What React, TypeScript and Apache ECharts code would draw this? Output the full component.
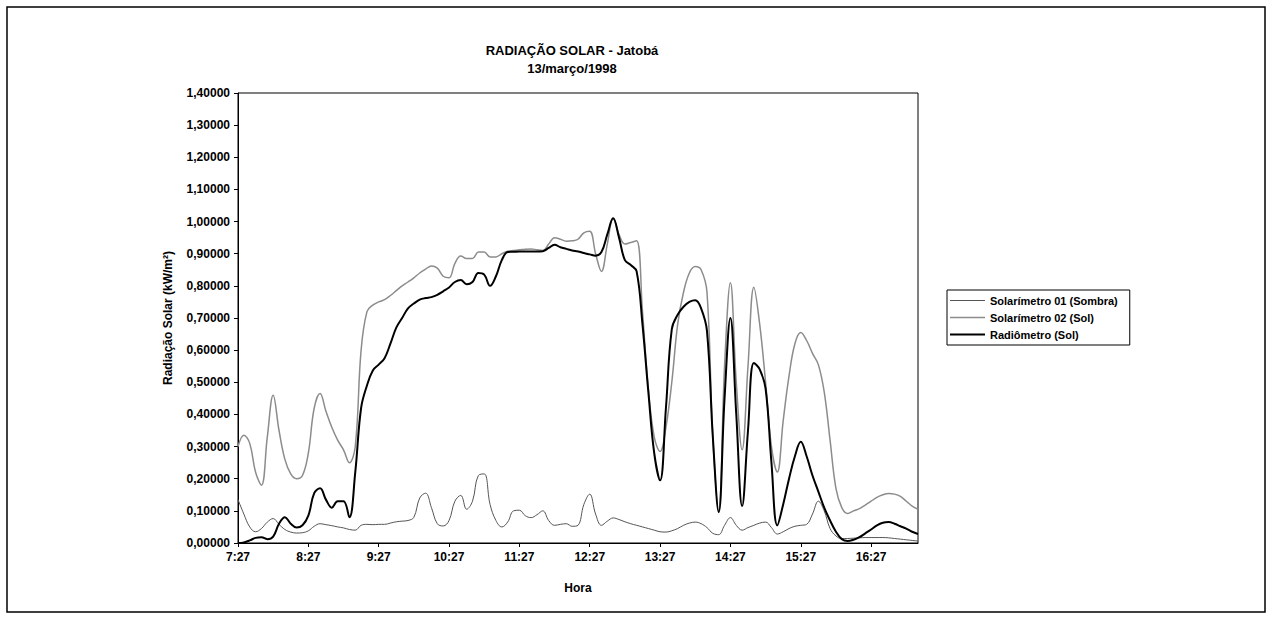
import React, { useEffect, useRef } from "react";
import * as echarts from "echarts";

const startMinutes = 7 * 60 + 27;
const stepMinutes = 5;

const sombra01 = [
  0.135, 0.09, 0.05, 0.035, 0.045, 0.065, 0.076, 0.058, 0.042, 0.034,
  0.031, 0.032, 0.038, 0.052, 0.06, 0.057, 0.054, 0.05, 0.047, 0.042,
  0.04, 0.055, 0.058, 0.057, 0.058, 0.058, 0.062, 0.066, 0.068, 0.07,
  0.08, 0.14, 0.155, 0.11, 0.06, 0.053, 0.07, 0.13, 0.148, 0.105,
  0.13, 0.21, 0.215, 0.12, 0.07, 0.05, 0.065, 0.1, 0.102, 0.085,
  0.079, 0.088, 0.1, 0.07, 0.055, 0.058, 0.06, 0.052, 0.055, 0.12,
  0.152, 0.09, 0.055, 0.068, 0.078, 0.073, 0.066, 0.06, 0.055, 0.05,
  0.045, 0.04, 0.035, 0.034, 0.038, 0.045, 0.055, 0.062, 0.065, 0.06,
  0.048, 0.03, 0.026, 0.055, 0.079, 0.055, 0.04, 0.048, 0.055, 0.062,
  0.065, 0.048, 0.028, 0.035, 0.045, 0.052, 0.055, 0.058, 0.09, 0.13,
  0.1, 0.045, 0.022, 0.014, 0.014, 0.015, 0.016, 0.017, 0.017, 0.017,
  0.017, 0.016, 0.014, 0.012, 0.01, 0.008, 0.006,
];

const sol02 = [
  0.3, 0.335, 0.31, 0.22, 0.18, 0.33, 0.46, 0.35, 0.26, 0.215,
  0.2, 0.21, 0.28, 0.42, 0.465, 0.41, 0.36, 0.32, 0.29, 0.25,
  0.3, 0.6, 0.72, 0.74, 0.75, 0.757, 0.77, 0.785, 0.8, 0.812,
  0.825, 0.84, 0.852, 0.862, 0.855, 0.83, 0.825, 0.87, 0.893, 0.885,
  0.885, 0.905, 0.905, 0.89, 0.89, 0.9, 0.908, 0.91, 0.912, 0.914,
  0.915, 0.912, 0.91, 0.93, 0.95, 0.945, 0.939, 0.94, 0.945, 0.965,
  0.97, 0.9, 0.845, 0.93, 1.01, 0.96, 0.93, 0.935, 0.94, 0.72,
  0.48, 0.33, 0.285, 0.36, 0.5, 0.68, 0.78, 0.84, 0.86, 0.85,
  0.78, 0.33, 0.1, 0.55, 0.81, 0.5, 0.29, 0.55, 0.796, 0.68,
  0.5, 0.3, 0.221, 0.38, 0.52, 0.62, 0.655, 0.63, 0.59, 0.555,
  0.47, 0.32, 0.17, 0.11, 0.092, 0.1, 0.107, 0.118, 0.13, 0.142,
  0.15, 0.154, 0.152, 0.145, 0.13, 0.115, 0.105,
];

const radiometro = [
  0.0, 0.002, 0.008, 0.016, 0.018, 0.012, 0.02, 0.06, 0.08, 0.06,
  0.048, 0.055, 0.085, 0.155, 0.17, 0.135, 0.11, 0.13, 0.13, 0.08,
  0.22, 0.42, 0.49, 0.537, 0.555, 0.575, 0.62, 0.67, 0.7, 0.73,
  0.745, 0.757, 0.762, 0.765, 0.772, 0.783, 0.795, 0.812, 0.818, 0.805,
  0.812, 0.84, 0.835, 0.8, 0.83, 0.88, 0.905, 0.906, 0.907, 0.907,
  0.907, 0.907, 0.908, 0.918, 0.928, 0.92, 0.915, 0.91, 0.907, 0.902,
  0.898, 0.894, 0.905, 0.96, 1.01, 0.95, 0.88, 0.865, 0.845, 0.68,
  0.47, 0.28, 0.195, 0.42, 0.665, 0.71, 0.735, 0.75, 0.755, 0.73,
  0.66, 0.33, 0.096, 0.45, 0.7, 0.4, 0.115, 0.35, 0.56, 0.54,
  0.48, 0.25, 0.055, 0.12, 0.2, 0.27, 0.315, 0.27, 0.21, 0.16,
  0.11, 0.07, 0.035, 0.012, 0.006, 0.01, 0.018, 0.03, 0.042, 0.055,
  0.063, 0.065, 0.06, 0.052, 0.045, 0.035, 0.028,
];

const seriesNames = [
  "Solarímetro 01 (Sombra)",
  "Solarímetro 02 (Sol)",
  "Radiômetro (Sol)",
];

const categories = radiometro.map((_, i) => {
  const m = startMinutes + i * stepMinutes;
  const h = Math.floor(m / 60);
  const mm = m % 60;
  return `${h}:${mm < 10 ? "0" + mm : mm}`;
});

const FONT = "'Liberation Sans', Arial, sans-serif";

export default function App() {
  const ref = useRef<HTMLDivElement>(null);

  useEffect(() => {
    document.body.style.margin = "0";
    if (!ref.current) return;
    const chart = echarts.init(ref.current, undefined, { renderer: "svg" });
    chart.setOption({
      animation: false,
      backgroundColor: "#ffffff",
      textStyle: { fontFamily: FONT },
      title: {
        text: "RADIAÇÃO SOLAR - Jatobá\n13/março/1998",
        left: 567,
        textAlign: "center",
        top: 36,
        textStyle: {
          fontFamily: FONT,
          fontSize: 13,
          fontWeight: "bold",
          color: "#000",
          lineHeight: 18,
        },
      },
      graphic: [
        {
          type: "rect",
          shape: { x: 7, y: 7, width: 1258, height: 605 },
          style: { fill: "none", stroke: "#000", lineWidth: 1.5 },
          silent: true,
        },
      ],
      legend: {
        orient: "vertical",
        left: 947,
        top: 290,
        backgroundColor: "#fff",
        borderColor: "#000",
        borderWidth: 1,
        padding: [5, 12, 5, 3],
        itemGap: 6,
        itemWidth: 35,
        itemHeight: 13,
        borderRadius: 0,
        textStyle: {
          fontFamily: FONT,
          fontSize: 11,
          fontWeight: "bold",
          color: "#000",
        },
        data: [
          { name: seriesNames[0], icon: "path://M0,6H35V7H0Z" },
          { name: seriesNames[1], icon: "path://M0,6H35V7.5H0Z" },
          { name: seriesNames[2], icon: "path://M0,5.5H35V7.5H0Z" },
        ],
      },
      grid: {
        left: 238,
        top: 93,
        width: 680,
        height: 450,
        show: true,
        borderColor: "#000",
        borderWidth: 1,
        backgroundColor: "#fff",
      },
      xAxis: {
        type: "category",
        data: categories,
        boundaryGap: false,
        name: "Hora",
        nameLocation: "middle",
        nameGap: 39,
        nameTextStyle: {
          fontFamily: FONT,
          fontSize: 12,
          fontWeight: "bold",
          color: "#000",
        },
        axisLine: { lineStyle: { color: "#000", width: 1 } },
        axisTick: { interval: 11, length: 4, lineStyle: { color: "#000" } },
        axisLabel: {
          interval: 11,
          fontFamily: FONT,
          fontSize: 12,
          fontWeight: "bold",
          color: "#000",
          margin: 8,
        },
        splitLine: { show: false },
      },
      yAxis: {
        type: "value",
        min: 0,
        max: 1.4,
        interval: 0.1,
        name: "Radiação Solar (kW/m²)",
        nameLocation: "middle",
        nameGap: 64,
        nameTextStyle: {
          fontFamily: FONT,
          fontSize: 12,
          fontWeight: "bold",
          color: "#000",
        },
        axisLine: { show: true, lineStyle: { color: "#000", width: 1 } },
        axisTick: { show: true, length: 4, lineStyle: { color: "#000" } },
        axisLabel: {
          fontFamily: FONT,
          fontSize: 12,
          fontWeight: "bold",
          color: "#000",
          margin: 8,
          formatter: (v: number) => v.toFixed(5).replace(".", ","),
        },
        splitLine: { show: false },
      },
      series: [
        {
          name: seriesNames[0],
          type: "line",
          data: sombra01,
          smooth: 0.4,
          symbol: "none",
          lineStyle: { color: "#555555", width: 1 },
          itemStyle: { color: "#555555" },
        },
        {
          name: seriesNames[1],
          type: "line",
          data: sol02,
          smooth: 0.4,
          symbol: "none",
          lineStyle: { color: "#8c8c8c", width: 1.5 },
          itemStyle: { color: "#8c8c8c" },
        },
        {
          name: seriesNames[2],
          type: "line",
          data: radiometro,
          smooth: 0.4,
          symbol: "none",
          lineStyle: { color: "#000000", width: 2 },
          itemStyle: { color: "#000000" },
        },
      ],
    });
    return () => chart.dispose();
  }, []);

  return <div ref={ref} style={{ width: 1273, height: 620 }} />;
}
